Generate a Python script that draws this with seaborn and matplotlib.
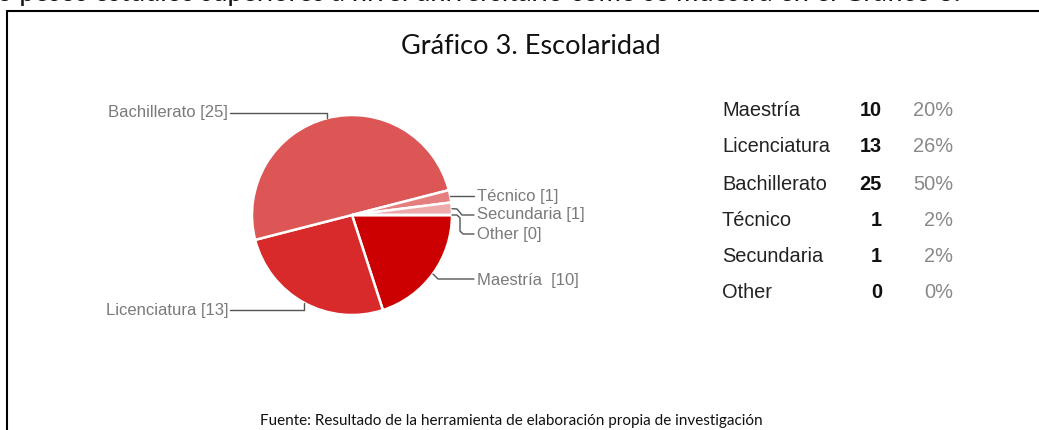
import matplotlib
matplotlib.use("Agg")
import matplotlib.pyplot as plt
from matplotlib.lines import Line2D
import seaborn as sns

# datos del grafico
categorias = ["Maestría", "Licenciatura", "Bachillerato", "Técnico", "Secundaria", "Other"]
etiquetas_pie = ["Maestría  [10]", "Licenciatura [13]", "Bachillerato [25]",
                 "Técnico [1]", "Secundaria [1]", "Other [0]"]
valores = [10, 13, 25, 1, 1, 0]
porcentajes = ["20%", "26%", "50%", "2%", "2%", "0%"]
colores = ["#cc0000", "#d82a2a", "#dc5656", "#e57f7f", "#eeaaaa", "#f4cccc"]

W, H = 1039, 430

sns.set_theme(style="white")
plt.rcParams["font.family"] = ["Liberation Sans", "DejaVu Sans"]

fig = plt.figure(figsize=(W / 100, H / 100), dpi=100)
fig.patch.set_facecolor("white")


def fx(px):
    return px / W


def fy(py):
    return 1 - py / H


# pie: centro (352, 215) px, radio 100 px
ax = fig.add_axes([fx(252), fy(315), 200 / W, 200 / H])
ax.pie(valores, colors=colores, startangle=0, counterclock=False, radius=1,
       wedgeprops=dict(edgecolor="white", linewidth=1.8))
ax.set_xlim(-1, 1)
ax.set_ylim(-1, 1)
ax.set_aspect("equal")
ax.axis("off")

gris_linea = "#555555"
gris_texto = "#7a7a7a"

# conectores y etiquetas (coordenadas en unidades del pie)
conectores = [
    ([0.81, 0.86, 1.22], [-0.59, -0.64, -0.64], (1.25, -0.65), "left"),
    ([-0.48, -0.48, -1.22], [-0.88, -0.95, -0.95], (-1.24, -0.95), "right"),
    ([-0.25, -0.25, -1.22], [0.97, 1.02, 1.02], (-1.24, 1.02), "right"),
    ([0.98, 1.22], [0.19, 0.19], (1.25, 0.19), "left"),
    ([1.0, 1.05, 1.1, 1.22], [0.063, 0.06, 0.0, 0.0], (1.25, 0.0), "left"),
    ([1.0, 1.05, 1.08, 1.08, 1.11, 1.22], [0.0, 0.0, -0.03, -0.16, -0.19, -0.19], (1.25, -0.19), "left"),
]
for lab, (xs, ys, pos, ha) in zip(etiquetas_pie, conectores):
    ax.add_line(Line2D(xs, ys, color=gris_linea, lw=1.0, clip_on=False))
    ax.text(pos[0], pos[1], lab, ha=ha, va="center", fontsize=12,
            color=gris_texto, clip_on=False)

# tabla de la derecha
filas_y = [111, 147, 184, 220, 256, 292]
for cat, val, pct, py in zip(categorias, valores, porcentajes, filas_y):
    fig.text(fx(722), fy(py), cat, ha="left", va="center", fontsize=14.4, color="#222222")
    fig.text(fx(882), fy(py), str(val), ha="right", va="center", fontsize=14.4,
             color="#111111", fontweight="bold")
    fig.text(fx(953), fy(py), pct, ha="right", va="center", fontsize=14.4, color="#888888")

# titulo y textos del documento
fig.text(fx(531), fy(46), "Gráfico 3. Escolaridad", ha="center", va="center",
         fontsize=19.5, color="#111111", family=["Lato", "DejaVu Sans"])
fig.text(fx(511), fy(425), "Fuente: Resultado de la herramienta de elaboración propia de investigación",
         ha="center", va="baseline", fontsize=11, color="#111111", family=["Lato", "DejaVu Sans"])
fig.text(fx(-3), fy(0.8), "o pesos estudios superiores a nivel universitario como se muestra en el Gráfico 3.",
         ha="left", va="baseline", fontsize=19.5, color="#111111", family=["Lato", "DejaVu Sans"])

# marco del recuadro
fig.add_artist(Line2D([fx(7), fx(7)], [fy(11), fy(440)], color="black", lw=1.5))
fig.add_artist(Line2D([fx(7), fx(1045)], [fy(11), fy(11)], color="black", lw=1.5))

fig.savefig("out.png", dpi=100, facecolor="white")
